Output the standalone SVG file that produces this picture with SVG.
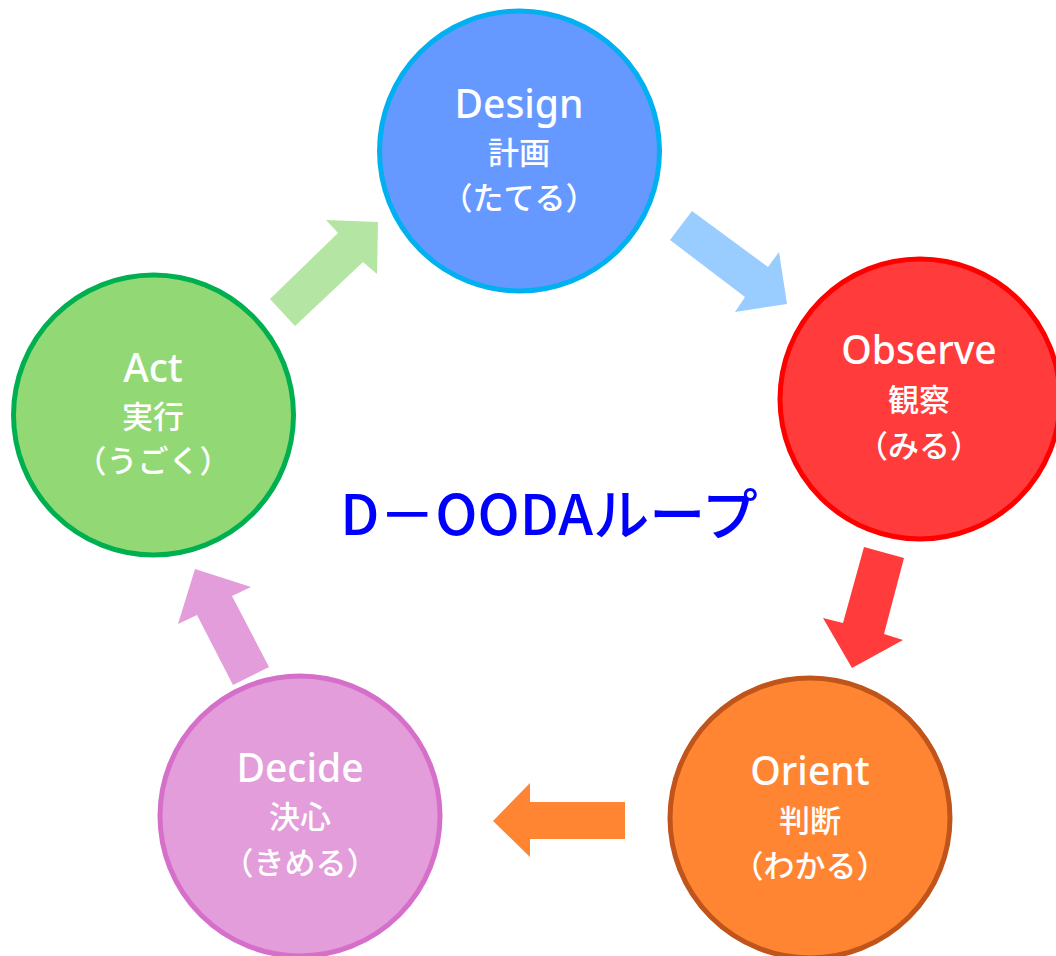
<svg xmlns="http://www.w3.org/2000/svg" width="1056" height="956" viewBox="0 0 1056 956">
<style>
.lat{font-family:"Noto Sans","Open Sans","Noto Sans CJK JP",sans-serif;font-size:39px;font-weight:500;fill:#fff;text-anchor:middle}
.jp{font-family:"Noto Sans CJK JP","Noto Sans",sans-serif;font-size:31px;font-weight:500;fill:#fff;text-anchor:middle}
.ttl{font-family:"Noto Sans CJK JP","Noto Sans",sans-serif;font-size:56px;font-weight:500;fill:#0000FF;text-anchor:middle}
circle{stroke-width:5}
</style>
<rect width="1056" height="956" fill="#fff"/>
<g id="connectors">
<polygon fill="#99CCFF" points="692,211 768,267 779,252 787,304 735,312 745,297 670,240"/>
<polygon fill="#FF3B3B" points="864,547 904,558 884,634 903,640 852,668 823,618 843,623"/>
<polygon fill="#FF8533" points="625,802 625,839 530,839 530,857 493,821 530,783 530,802"/>
<polygon fill="#E29DDA" points="233,685 197,615 178,624 195,569 251,587 232,596 269,667"/>
<polygon fill="#B5E5A2" points="270,299 338,233 326,220 378,222 377,274 363,262 295,326"/>
</g>
<g id="design">
<circle cx="519.5" cy="151" r="140" fill="#6699FF" stroke="#00B0F0"/>
<text class="lat" x="519" y="118">Design</text>
<text class="jp" x="519" y="164">計画</text>
<text class="jp" x="519" y="209">（たてる）</text>
</g>
<g id="observe">
<circle cx="920" cy="399" r="140" fill="#FF3B3B" stroke="#FF0000"/>
<text class="lat" x="919" y="364">Observe</text>
<text class="jp" x="919" y="411">観察</text>
<text class="jp" x="919" y="457">（みる）</text>
</g>
<g id="orient">
<circle cx="810" cy="818" r="140" fill="#FF8533" stroke="#C0541A"/>
<text class="lat" x="810" y="785">Orient</text>
<text class="jp" x="810" y="832">判断</text>
<text class="jp" x="810" y="877">（わかる）</text>
</g>
<g id="decide">
<circle cx="300" cy="816" r="140" fill="#E29DDA" stroke="#D56FC9"/>
<text class="lat" x="300" y="782">Decide</text>
<text class="jp" x="300" y="828">決心</text>
<text class="jp" x="300" y="874">（きめる）</text>
</g>
<g id="act">
<circle cx="153.5" cy="415" r="140" fill="#92D975" stroke="#00B050"/>
<text class="lat" x="153" y="382">Act</text>
<text class="jp" x="153" y="428">実行</text>
<text class="jp" x="153" y="472">（うごく）</text>
</g>
<g id="title">
<text class="ttl" x="549" y="535">D－OODAループ</text>
</g>
</svg>
